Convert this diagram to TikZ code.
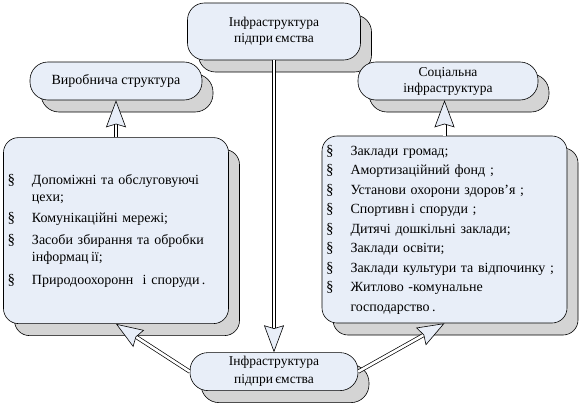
\documentclass[tikz,border=0pt]{standalone}
\usepackage{fontspec}
\setmainfont{Liberation Serif}
\usetikzlibrary{arrows.meta,positioning,shadows}
\definecolor{boxfill}{RGB}{232,238,248}
\definecolor{shadowgray}{RGB}{212,212,212}
\newcommand{\dblarrow}[2]{%
  \draw[shaft] #1 -- #2;
  \draw[tip] #1 -- #2;}
\newcommand{\sect}{{\fontsize{15}{15}\selectfont §}}

\begin{document}
\begin{tikzpicture}[
    x=1pt, y=-1pt,
    box/.style={rectangle, draw=black, line width=0.6pt, fill=boxfill,
                align=center, font=\fontsize{13.5}{16}\selectfont, inner sep=2pt,
                drop shadow={shadow xshift=11pt, shadow yshift=-12pt,
                             fill=shadowgray, draw=black, opacity=1}},
    pill/.style={box, rounded corners=18pt, minimum height=38pt},
    listbox/.style={box, rounded corners=15pt, align=left, inner xsep=4pt,
                    font=\fontsize{14}{17}\selectfont},
    shaft/.style={draw=black, line width=0.7pt, double=white,
                  double distance=2.6pt, shorten >=18pt},
    tip/.style={draw=white, line width=0.6pt,
                -{Stealth[length=27pt, width=20pt, inset=3pt,
                          fill=boxfill, color=black]}}
  ]
  \useasboundingbox (0,0) rectangle (580,404);

  %% Enterprise infrastructure (top and bottom)
  \node[box, rounded corners=17pt, minimum width=173pt, minimum height=57pt]
        (top) at (274,31.5) {Інфраструктура\\підпри\,ємства};
  \node[pill, minimum width=168pt, font=\fontsize{13.5}{18}\selectfont,
        below=292pt of top] (bottom) {Інфраструктура\\підпри\,ємства};

  %% Production structure
  \node[pill, minimum width=172pt, font=\fontsize{14}{16}\selectfont]
        (prod) at (116,81) {Виробнича структура};
  \node[listbox, text width=217pt, minimum height=186pt, below=37pt of prod]
        (prodlist) {\begin{tabular}{@{}p{24.5pt}@{}l@{}}
          \sect & Допоміжні та обслуговуючі\\
                & цехи;\\[4pt]
          \sect & Комунікаційні мережі;\\[5pt]
          \sect & Засоби збирання та обробки\\
                & інформац\,ії;\\[6pt]
          \sect & Природоохоронн\ \ і споруди\,.
        \end{tabular}};

  %% Social infrastructure
  \node[pill, minimum width=180pt] (social) at (448,81) {Соціальна\\інфраструктура};
  \node[listbox, text width=237pt, minimum height=187pt,
        font=\fontsize{14}{19.5}\selectfont] (sociallist) at (444.5,229.5)
        {\begin{tabular}{@{}p{24.5pt}@{}l@{}}
          \sect & Заклади громад;\\
          \sect & Амортизаційний фонд ;\\
          \sect & Установи охорони здоров’я ;\\
          \sect & Спортивн\,і споруди ;\\
          \sect & Дитячі дошкільні заклади;\\
          \sect & Заклади освіти;\\
          \sect & Заклади культури та відпочинку ;\\
          \sect & Житлово -комунальне\\
                & господарство\,.
        \end{tabular}};

  %% Arrows
  \dblarrow{(top)}{(bottom)}
  \dblarrow{(prodlist)}{(prod)}
  \dblarrow{(sociallist.north)}{(sociallist.north |- social.south)}
  \dblarrow{(bottom.west)}{(prodlist.south)}
  \dblarrow{(bottom.east)}{(sociallist.south)}

\end{tikzpicture}
\end{document}
